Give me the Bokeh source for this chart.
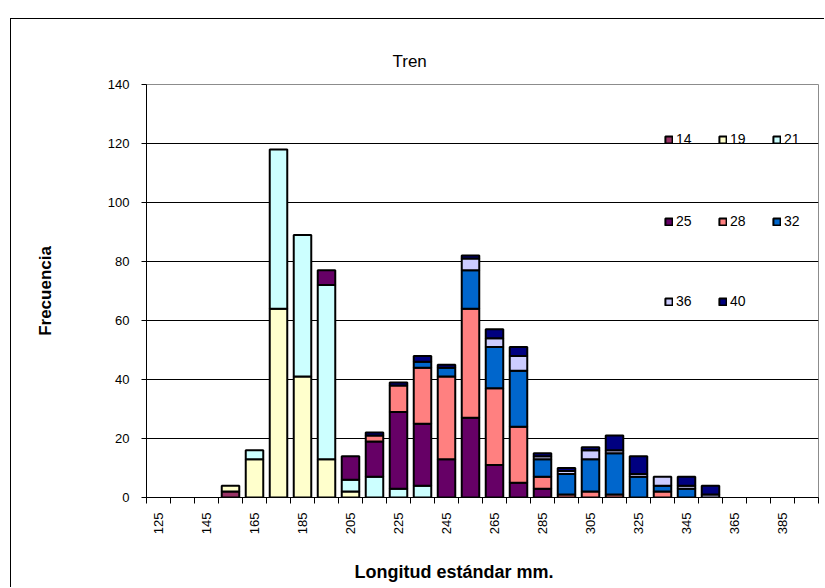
import math
import numpy as np
from bokeh.plotting import figure
from bokeh.models import (ColumnDataSource, Range1d, FixedTicker, Legend, LegendItem,
                          LinearAxis, Title)
from bokeh.embed import file_html
from bokeh.resources import INLINE

# ---------------- data ----------------
lengths = [125, 135, 145, 155, 165, 175, 185, 195, 205, 215, 225, 235, 245, 255,
           265, 275, 285, 295, 305, 315, 325, 335, 345, 355, 365, 375, 385, 395]
x_tick_labels = [125, 145, 165, 185, 205, 225, 245, 265, 285, 305, 325, 345, 365, 385]
y_ticks = [0, 20, 40, 60, 80, 100, 120, 140]

series_names = ["14", "19", "21", "25", "28", "32", "36", "40"]
colors = ["#993366", "#FFFFCC", "#CCFFFF", "#660066", "#FF8080", "#0066CC", "#CCCCFF", "#000080"]

s14 = [0, 0, 0, 2, 0, 0, 0, 0, 0, 0, 0, 0, 0, 0, 0, 0, 0, 0, 0, 0, 0, 0, 0, 0, 0, 0, 0, 0]
s19 = [0, 0, 0, 2, 13, 64, 41, 13, 2, 0, 0, 0, 0, 0, 0, 0, 0, 0, 0, 0, 0, 0, 0, 0, 0, 0, 0, 0]
s21 = [0, 0, 0, 0, 3, 54, 48, 59, 4, 7, 3, 4, 0, 0, 0, 0, 0, 0, 0, 0, 0, 0, 0, 0, 0, 0, 0, 0]
s25 = [0, 0, 0, 0, 0, 0, 0, 5, 8, 12, 26, 21, 13, 27, 11, 5, 3, 0, 0, 0, 0, 0, 0, 0, 0, 0, 0, 0]
s28 = [0, 0, 0, 0, 0, 0, 0, 0, 0, 2, 9, 19, 28, 37, 26, 19, 4, 1, 2, 1, 0, 2, 0, 0, 0, 0, 0, 0]
s32 = [0, 0, 0, 0, 0, 0, 0, 0, 0, 0, 0, 2, 3, 13, 14, 19, 6, 7, 11, 14, 7, 2, 3, 0, 0, 0, 0, 0]
s36 = [0, 0, 0, 0, 0, 0, 0, 0, 0, 0, 0, 0, 0, 4, 3, 5, 1, 1, 3, 1, 1, 3, 1, 1, 0, 0, 0, 0]
s40 = [0, 0, 0, 0, 0, 0, 0, 0, 0, 1, 1, 2, 1, 1, 3, 3, 1, 1, 1, 5, 6, 0, 3, 3, 0, 0, 0, 0]
series = [s14, s19, s21, s25, s28, s32, s36, s40]

FONT = "Liberation Sans"

# ---------------- figure ----------------
p = figure(width=814, height=569, x_range=Range1d(120, 400), y_range=Range1d(0, 140),
           output_backend="svg", toolbar_location=None,
           min_border_left=135, min_border_right=7, min_border_top=65, min_border_bottom=91,
           margin=(18, 0, 0, 10),
           styles={"border-top": "1px solid #000000", "border-left": "1px solid #000000"})
p.background_fill_color = "white"
p.border_fill_color = "white"
p.outline_line_color = "#8c8c8c"
p.outline_line_width = 1

# bars (stacked)
x = np.array(lengths, dtype=float)
bottom = np.zeros(len(lengths))
renderers = {}
for name, vals, col in zip(series_names, series, colors):
    v = np.array(vals, dtype=float)
    top = bottom + v
    m = v > 0
    src = ColumnDataSource(dict(x=x[m], bottom=bottom[m], top=top[m]))
    r = p.vbar(x="x", bottom="bottom", top="top", width=7.3, source=src,
               fill_color=col, line_color="black", line_width=2)
    renderers[name] = r
    bottom = top

# grid
p.xgrid.visible = False
p.ygrid.ticker = FixedTicker(ticks=y_ticks)
p.ygrid.grid_line_color = "black"
p.ygrid.grid_line_width = 1

# y axis
p.yaxis.ticker = FixedTicker(ticks=y_ticks)
p.yaxis.axis_line_color = "black"
p.yaxis.major_tick_line_color = "black"
p.yaxis.major_tick_out = 5
p.yaxis.major_tick_in = 0
p.yaxis.minor_tick_line_color = None
p.yaxis.major_label_standoff = 12
p.yaxis.major_label_text_font = FONT
p.yaxis.major_label_text_font_size = "13px"
p.yaxis.major_label_text_color = "black"
p.yaxis.axis_label = "Frecuencia"
p.yaxis.axis_label_text_font = FONT
p.yaxis.axis_label_text_font_size = "17px"
p.yaxis.axis_label_text_font_style = "bold"
p.yaxis.axis_label_text_color = "black"
p.yaxis.axis_label_standoff = 50

# x axis: labels at every other category centre, tick marks at category boundaries
p.xaxis.ticker = FixedTicker(ticks=x_tick_labels,
                             minor_ticks=[l - 5 for l in lengths] + [lengths[-1] + 5])
p.xaxis.axis_line_color = "black"
p.xaxis.major_tick_line_color = None
p.xaxis.major_tick_out = 6
p.xaxis.major_tick_in = 0
p.xaxis.minor_tick_line_color = "black"
p.xaxis.minor_tick_out = 6
p.xaxis.minor_tick_in = 0
p.xaxis.major_label_orientation = math.pi / 2
p.xaxis.major_label_standoff = 9
p.xaxis.major_label_text_font = FONT
p.xaxis.major_label_text_font_size = "13px"
p.xaxis.major_label_text_color = "black"

# blank spacer axis between the tick labels and the x title
spacer = LinearAxis(ticker=FixedTicker(ticks=[]), axis_line_color=None,
                    major_tick_line_color=None, minor_tick_line_color=None,
                    major_tick_out=0, minor_tick_out=0, major_label_standoff=0,
                    axis_label=" ", axis_label_standoff=18,
                    axis_label_text_font_size="1px", axis_label_text_alpha=0)
p.add_layout(spacer, "below")

# x title
p.add_layout(Title(text="Longitud estándar mm.", align="left", offset=208, standoff=0,
                   text_font=FONT, text_font_size="18px", text_font_style="bold",
                   text_color="black"), "below")

# chart title
p.title.text = "Tren"
p.title.align = "left"
p.title.offset = 246
p.title.standoff = 27
p.title.text_font = FONT
p.title.text_font_size = "17px"
p.title.text_font_style = "normal"
p.title.text_color = "black"

# legend: three rows
rows = [["14", "19", "21"], ["25", "28", "32"], ["36", "40"]]
row_y = [350, 268, 188]
for names, vy in zip(rows, row_y):
    lg = Legend(items=[LegendItem(label=n, renderers=[renderers[n]]) for n in names],
                orientation="horizontal", location=(518, vy), padding=0, margin=0,
                spacing=22, glyph_width=9, glyph_height=9, label_height=9, label_width=20,
                label_standoff=3, label_text_font=FONT, label_text_font_size="14px",
                label_text_color="black", background_fill_alpha=0, border_line_alpha=0)
    p.add_layout(lg)

open("out.html", "w").write(file_html(p, INLINE))
